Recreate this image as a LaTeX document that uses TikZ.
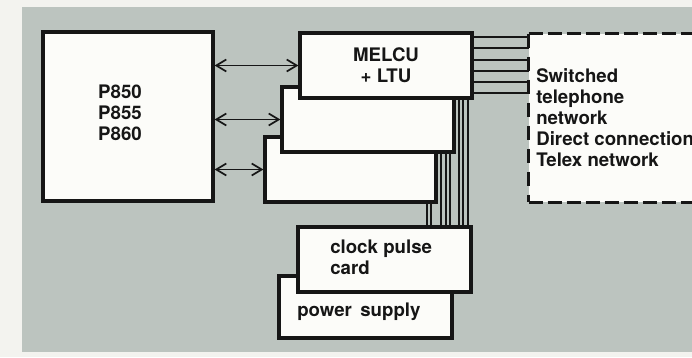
\documentclass[tikz,border=0pt]{standalone}
\usepackage{fontspec}
\setmainfont{TeX Gyre Heros}
\usetikzlibrary{arrows.meta}
\definecolor{bggray}{RGB}{188,196,191}
\definecolor{paper}{RGB}{243,243,239}
\definecolor{boxwhite}{RGB}{252,252,249}
\definecolor{ink}{RGB}{22,22,22}
\begin{document}
\begin{tikzpicture}[x=0.75pt,y=-0.75pt,
  blk/.style={draw=ink,fill=boxwhite,line width=2.4pt,rectangle,inner sep=0pt},
  lbl/.style={font=\fontsize{14}{15.75}\selectfont\bfseries,text=ink,inner sep=0pt},
  wire/.style={draw=ink,line width=1.3pt},
  dbl/.style={wire,{Straight Barb[length=7.5pt,width=9pt]}-{Straight Barb[length=7.5pt,width=9pt]}},
  dashedge/.style={draw=ink,line width=2.4pt}
]
\useasboundingbox (0,0) rectangle (692,357);
\clip (0,0) rectangle (692,357);
\fill[paper] (0,0) rectangle (692,357);
\fill[bggray] (22,7) rectangle (700,352);

% processor
\node[blk,minimum width=127.5pt,minimum height=126.75pt] (cpu) at (128,116.5) {};
\node[lbl,align=center] (cputxt) at (120,113) {P850\\P855\\P860};

% line units (back to front)
\node[blk,minimum width=128.25pt,minimum height=48.75pt] (lineC) at (350.5,169.5) {};
\node[blk,minimum width=129pt,minimum height=48.75pt] (lineB) at (368,119.5) {};
\node[blk,lbl,minimum width=129pt,minimum height=48.75pt,align=center] (melcu) at (386,65.5) {MELCU\\+ LTU};

% network box
\node[fill=boxwhite,draw=none,inner sep=0pt,minimum width=150pt,minimum height=126pt] (net) at (629,118) {};
\draw[dashedge,dash pattern=on 10.5pt off 6.75pt] (net.north west) -- (net.south west);
\draw[dashedge,dash pattern=on 10.5pt off 3.75pt] (net.north west) -- (net.north east);
\draw[dashedge,dash pattern=on 10.5pt off 3.75pt] (net.south west) -- (net.south east);
\node[lbl,anchor=west,align=left] (nettxt) at (536,118) {Switched\\telephone\\network\\Direct connection\\Telex network};

% power and clock
\node[blk,minimum width=129.75pt,minimum height=46.5pt] (power) at (365.5,307) {};
\node[lbl,anchor=west] (powertxt) at (297,312) {power\hspace{0.45em}supply};
\node[blk,minimum width=129.75pt,minimum height=48.75pt] (clock) at (384.5,259.5) {};
\node[lbl,anchor=west,align=left] (clocktxt) at (330,257) {clock pulse\\card};

% bidirectional links
\draw[dbl] (cpu.east |- melcu.west) -- (melcu.west);
\draw[dbl] (cpu.east |- lineB.west) -- (lineB.west);
\draw[dbl] (cpu.east |- lineC.west) -- (lineC.west);

% lines to network
\foreach \yy in {37,48,60,71,82,93}
  \draw[wire] (melcu.east |- 0,\yy) -- (net.west |- 0,\yy);

% vertical lines to clock pulse card
\foreach \xx in {459,463,468}
  \draw[wire] (\xx,0 |- melcu.south) -- (\xx,0 |- clock.north);
\foreach \xx in {441,446,450}
  \draw[wire] (\xx,0 |- lineB.south) -- (\xx,0 |- clock.north);
\foreach \xx in {427,431}
  \draw[wire] (\xx,0 |- lineC.south) -- (\xx,0 |- clock.north);
\end{tikzpicture}
\end{document}
